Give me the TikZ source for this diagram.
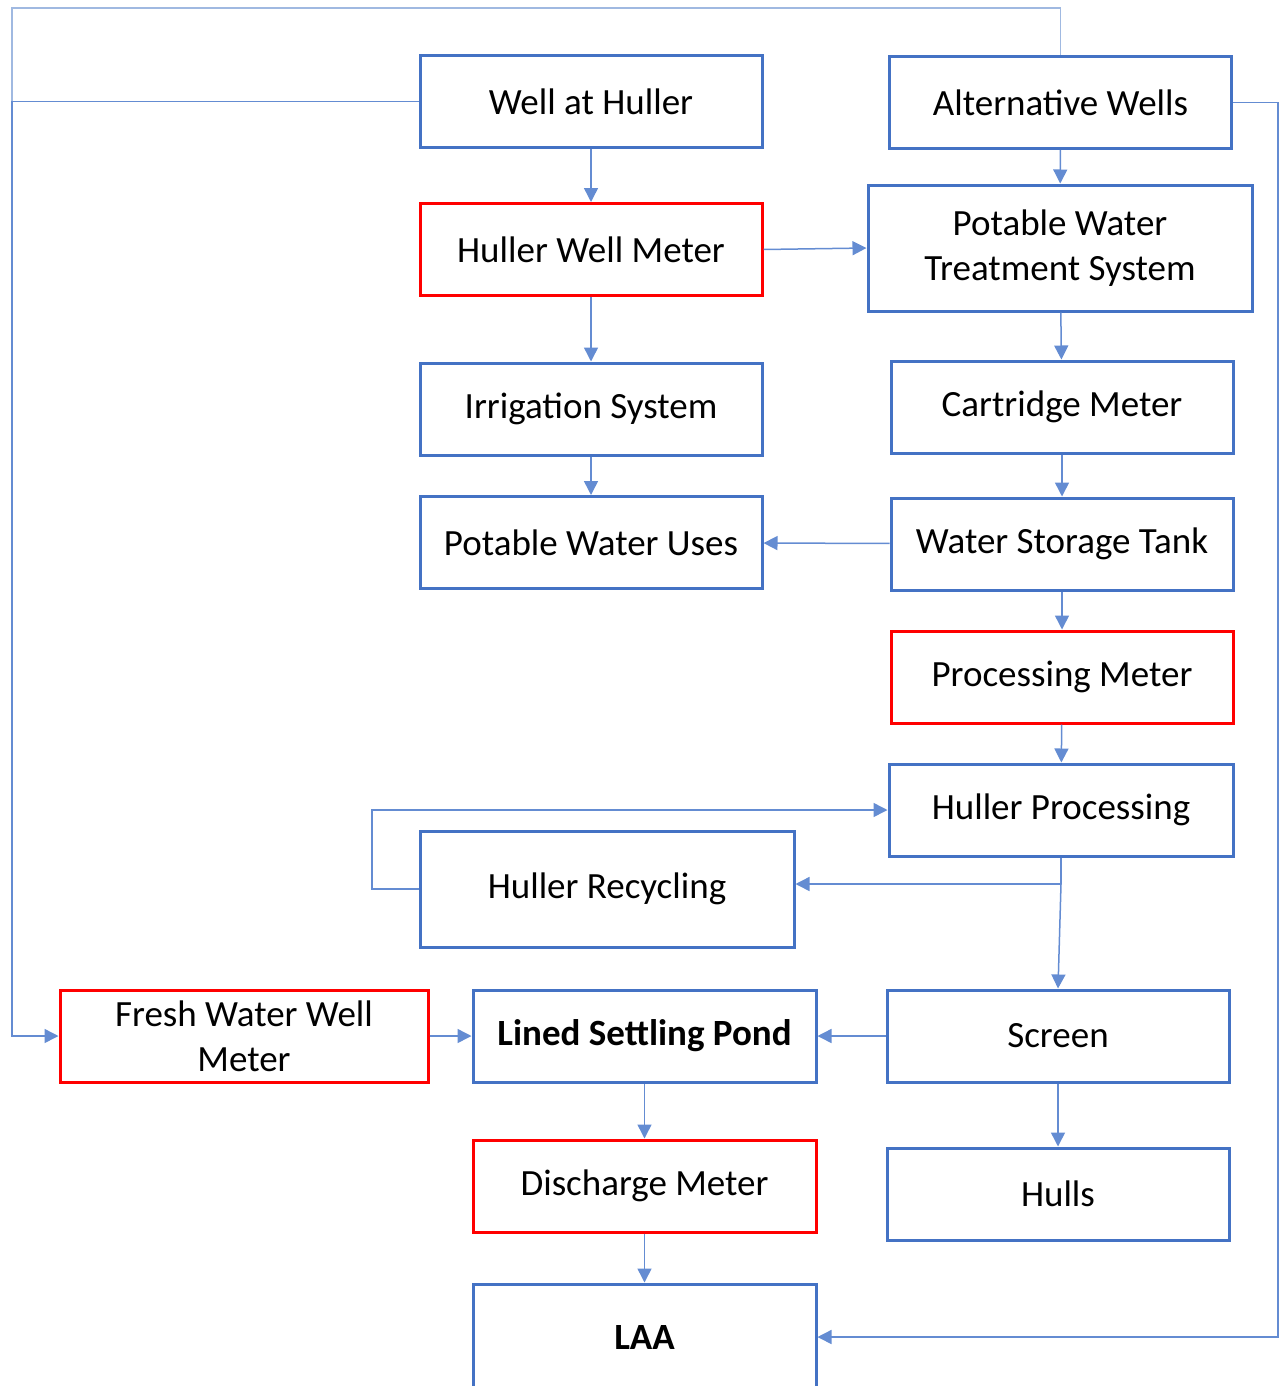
\documentclass[tikz,border=0pt]{standalone}
\usepackage{fontspec}
\setmainfont{Carlito}
\usetikzlibrary{positioning}
\usetikzlibrary{arrows.meta}
\definecolor{boxblue}{RGB}{68,114,196}
\definecolor{boxred}{RGB}{255,0,0}
\definecolor{lineblue}{RGB}{100,140,210}
\definecolor{paleblue}{RGB}{160,185,225}

\begin{document}
\begin{tikzpicture}[x=0.5pt, y=-0.5pt,
		box/.style={draw=boxblue, line width=1.5pt, minimum width=171pt, minimum height=46pt,
			inner sep=0pt, align=center, font=\fontsize{18.5}{22.5}\selectfont},
		redbox/.style={box, draw=boxred},
		flow/.style={draw=lineblue, line width=0.75pt, -{Triangle[length=7pt, width=7pt]}},
		link/.style={draw=lineblue, line width=0.75pt}
	]
	\clip (0,0) rectangle (1280,1386);
	\useasboundingbox (0,0) rectangle (1280,1386);
	% left column
	\node[box] (well) at (591,101.5) {Well at Huller};
	\node[redbox] (hwm) at (591,249.5) {Huller Well Meter};
	\node[box] (irr) at (591,409) {Irrigation System};
	\node[box] (pwu) at (591,542.5) {Potable Water Uses};
	\node[box, minimum width=187pt, minimum height=58pt] (hr) at (607,889) {Huller Recycling};
	% right column
	\node[box] (alt) at (1060.5,102.5) {Alternative Wells};
	\node[box, minimum width=192pt, minimum height=63pt] (pwts) at (1060,248) {Potable Water\\Treatment System};
	\node[box] (cart) at (1062,407) {Cartridge Meter};
	\node[box] (wst) at (1062,544) {Water Storage Tank};
	\node[redbox] (pm) at (1062,677) {Processing Meter};
	\node[box, minimum width=172pt] (hp) at (1061,810) {Huller Processing};
	\node[box] (scr) at (1058,1036) {Screen};
	\node[box] (hulls) at (1058,1194) {Hulls};
	% bottom rows
	\node[redbox, minimum width=184pt] (fwwm) at (244,1036) {Fresh Water Well\\Meter};
	\node[box, minimum width=171.5pt, font=\fontsize{18.5}{22.5}\selectfont\bfseries] (lsp) at (644.5,1036) {Lined Settling Pond};
	\node[redbox, minimum width=171.5pt] (dm) at (644.5,1186) {Discharge Meter};
	\node[box, minimum width=171.5pt, minimum height=53pt, font=\fontsize{18.5}{22.5}\selectfont\bfseries] (laa) at (644.5,1337) {LAA};

	\coordinate (westjoin) at (12,101);
	\coordinate (westbus) at (12,1036);
	\coordinate (topleft) at (12,8);
	\coordinate (eastbus) at (1278,1337);
	\coordinate (loop) at (372,810);
	\coordinate (split) at (1061,884);

	\draw[flow] (well) -- (hwm);
	\draw[flow] (hwm) -- (irr);
	\draw[flow] (irr) -- (pwu);
	\draw[flow] (hwm.east) -- (pwts.west);
	\draw[flow] (alt) -- (pwts);
	\draw[flow] (pwts) -- (cart);
	\draw[flow] (cart) -- (wst);
	\draw[flow] (wst) -- (pwu);
	\draw[flow] (wst) -- (pm);
	\draw[flow] (pm) -- (hp);
	\draw[link] (hp.south) -- (split);
	\draw[flow] (split) -- (hr.east |- split);
	\draw[flow] (split) -- (scr.north);
	\draw[flow] (hr.west) -| (loop) -- (hp.west);
	\draw[flow] (well.west) -| (westbus) -- (fwwm.west);
	\draw[link, draw=paleblue] (alt.north) |- (topleft) -- (westjoin);
	\draw[flow] (alt.east) -| (eastbus) -- (laa.east);
	\draw[flow] (fwwm) -- (lsp);
	\draw[flow] (scr) -- (lsp);
	\draw[flow] (scr) -- (hulls);
	\draw[flow] (lsp) -- (dm);
	\draw[flow] (dm) -- (laa);
\end{tikzpicture}
\end{document}
